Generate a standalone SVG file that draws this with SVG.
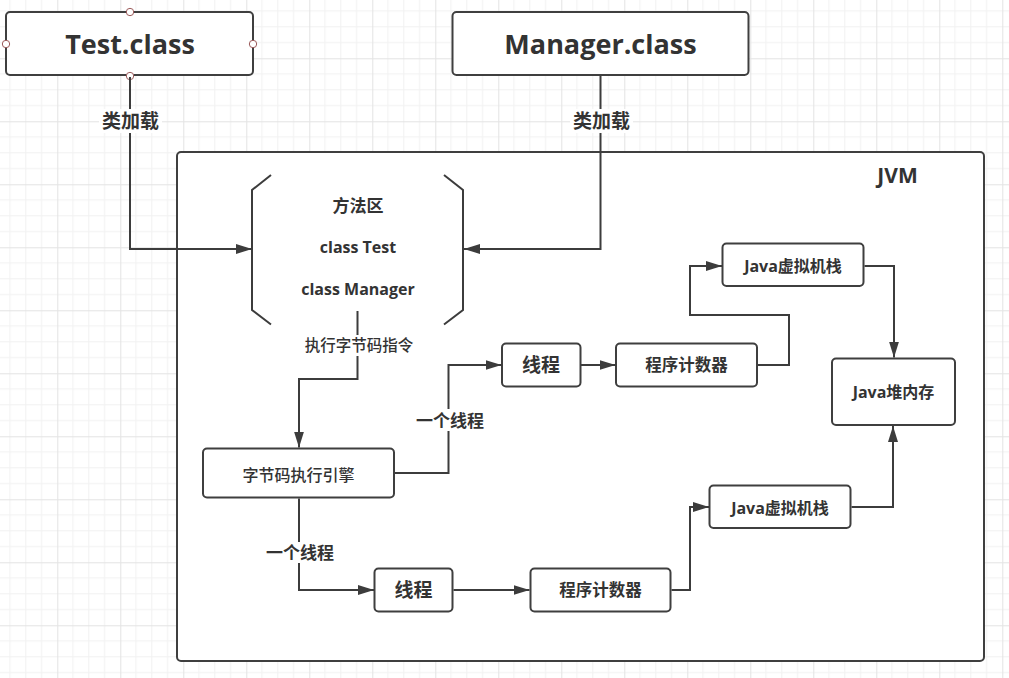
<svg xmlns="http://www.w3.org/2000/svg" width="1009" height="678" viewBox="0 0 1009 678">
<style>
.box{fill:#fff;stroke:#3f3f3f;stroke-width:2}
.t{font-family:'Open Sans','Noto Sans CJK SC',sans-serif;fill:#333;text-anchor:middle}
.b{font-weight:bold}
.m{font-weight:500}
.con{fill:none;stroke:#3c3c3c;stroke-width:2}
.bg{fill:#fff}
.h{fill:#fff;stroke:#9b5a5a;stroke-width:1}
</style>
<defs>
<pattern id="grid" x="-5.7" y="-4.7" width="63" height="63" patternUnits="userSpaceOnUse">
<path d="M15.75 0V63M31.5 0V63M47.25 0V63M0 15.75H63M0 31.5H63M0 47.25H63" stroke="#f1f1f1" stroke-width="1" fill="none"/>
<path d="M0.5 0V63M0 0.5H63" stroke="#e3e3e3" stroke-width="1" fill="none"/>
</pattern>
<marker id="arr" markerUnits="userSpaceOnUse" markerWidth="16" markerHeight="10" refX="16" refY="5" orient="auto">
<path d="M0 0L16 5L0 10z" fill="#3c3c3c"/>
</marker>
</defs>
<rect width="1009" height="678" fill="#fff"/>
<rect width="1009" height="678" fill="url(#grid)"/>

<g id="jvm">
<rect class="box" x="177" y="152" width="807" height="509" rx="4"/>
<text class="t b" x="897.5" y="183" font-size="21">JVM</text>
</g>

<g id="test-class">
<rect class="box" x="6" y="12" width="247" height="63" rx="4"/>
<text class="t b" x="130" y="54" font-size="27">Test.class</text>
<circle class="h" cx="130" cy="12" r="3.7"/>
<circle class="h" cx="6" cy="44" r="3.7"/>
<circle class="h" cx="253" cy="44" r="3.7"/>
<circle class="h" cx="130" cy="76" r="3.7"/>
</g>

<g id="manager-class">
<rect class="box" x="452.5" y="12" width="296" height="63" rx="4"/>
<text class="t b" x="600.5" y="54" font-size="27">Manager.class</text>
</g>

<g id="method-area">
<path class="con" d="M271 175L252 190V310L271 324.5M444 175L463 190V310L444 324.5" stroke="#3f3f3f"/>
<text class="t b" x="358" y="212" font-size="17">方法区</text>
<text class="t b" x="358" y="253" font-size="16">class Test</text>
<text class="t b" x="358" y="295" font-size="16">class Manager</text>
</g>

<g id="engine">
<rect class="box" x="203" y="448.5" width="191" height="49" rx="4"/>
<text class="t m" x="298.5" y="481" font-size="16">字节码执行引擎</text>
</g>

<g id="thread1">
<rect class="box" x="502" y="343.5" width="78.5" height="43" rx="4"/>
<text class="t b" x="541" y="372" font-size="19">线程</text>
</g>
<g id="pc1">
<rect class="box" x="616" y="343.5" width="141" height="43" rx="4"/>
<text class="t b" x="686.5" y="371" font-size="16.5">程序计数器</text>
</g>
<g id="stack1">
<rect class="box" x="722.5" y="243.5" width="141" height="42.5" rx="4"/>
<text class="t b" x="793" y="272" font-size="16">Java虚拟机栈</text>
</g>
<g id="heap">
<rect class="box" x="832" y="358.5" width="123" height="66.5" rx="4"/>
<text class="t b" x="893.5" y="398" font-size="16">Java堆内存</text>
</g>
<g id="thread2">
<rect class="box" x="374.5" y="568.5" width="78" height="43" rx="4"/>
<text class="t b" x="413.5" y="597" font-size="19">线程</text>
</g>
<g id="pc2">
<rect class="box" x="530.5" y="568.5" width="140" height="43" rx="4"/>
<text class="t b" x="600.5" y="596" font-size="16.5">程序计数器</text>
</g>
<g id="stack2">
<rect class="box" x="709.5" y="485.5" width="141" height="42.5" rx="4"/>
<text class="t b" x="780" y="514" font-size="16">Java虚拟机栈</text>
</g>

<g id="connectors">
<path class="con" d="M130 77V249H252" marker-end="url(#arr)"/>
<path class="con" d="M600.5 76V249H464" marker-end="url(#arr)"/>
<path class="con" d="M357.5 311V379H299V447.5" marker-end="url(#arr)"/>
<path class="con" d="M395 473H448.5V365H501.5" marker-end="url(#arr)"/>
<path class="con" d="M581 365H615.5" marker-end="url(#arr)"/>
<path class="con" d="M758 365H789V315H690V266H722" marker-end="url(#arr)"/>
<path class="con" d="M864.5 266H894V357.5" marker-end="url(#arr)"/>
<path class="con" d="M299 498.5V590H374" marker-end="url(#arr)"/>
<path class="con" d="M453.5 590H529.5" marker-end="url(#arr)"/>
<path class="con" d="M671.5 590H690V507H709" marker-end="url(#arr)"/>
<path class="con" d="M851.5 507H893V426" marker-end="url(#arr)"/>

<rect class="bg" x="99" y="109" width="63" height="24"/>
<text class="t b" x="130.5" y="128" font-size="19">类加载</text>
<rect class="bg" x="570" y="109" width="63" height="24"/>
<text class="t b" x="601.5" y="128" font-size="19">类加载</text>
<rect class="bg" x="303" y="335" width="112" height="21"/>
<text class="t m" x="359" y="351" font-size="15.5">执行字节码指令</text>
<rect class="bg" x="414" y="409" width="71" height="22"/>
<text class="t b" x="450" y="427" font-size="17">一个线程</text>
<rect class="bg" x="265" y="542" width="70" height="21"/>
<text class="t b" x="300" y="559" font-size="17">一个线程</text>
</g>
</svg>
